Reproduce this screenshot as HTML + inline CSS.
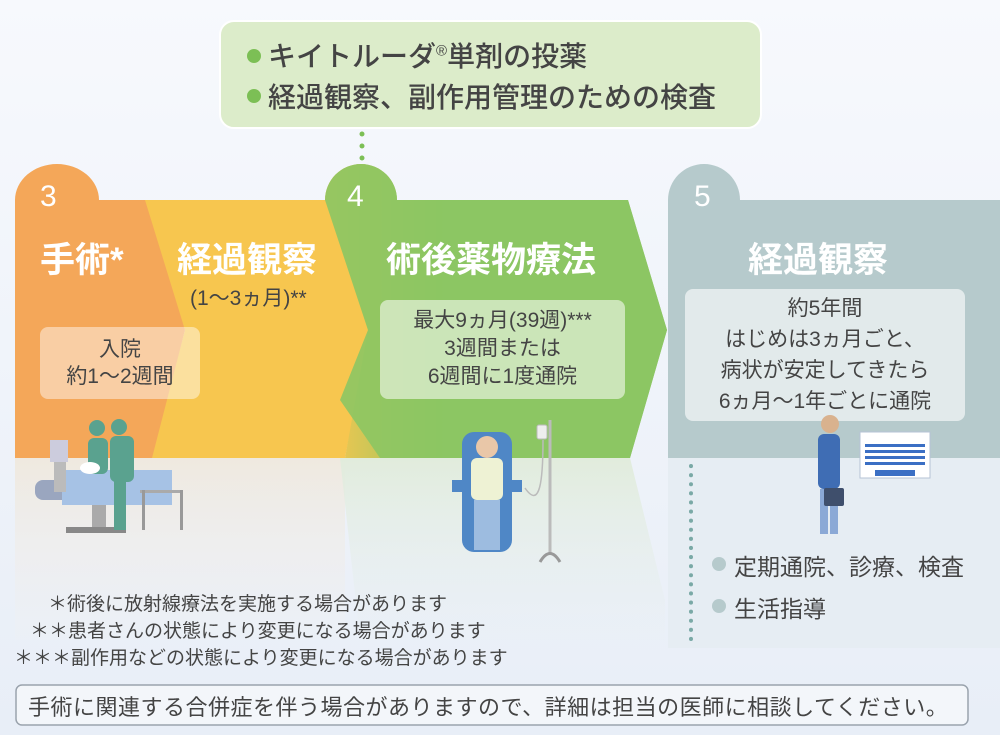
<!DOCTYPE html>
<html><head><meta charset="utf-8"><style>
body{margin:0;width:1000px;height:735px;overflow:hidden;background:#edf2f9;font-family:"Liberation Sans","Noto Sans CJK JP",sans-serif;position:relative}
.t{position:absolute;white-space:nowrap}
.w{color:#fff;font-weight:bold}
.d{color:#444}
</style></head><body>
<svg width="1000" height="735" style="position:absolute;left:0;top:0">
<defs>
<linearGradient id="bg" x1="0" y1="0" x2="0" y2="1"><stop offset="0" stop-color="#f7f9fd"/><stop offset="1" stop-color="#e8eef7"/></linearGradient>
<linearGradient id="gy" x1="0" y1="0" x2="1" y2="0"><stop offset="0" stop-color="#f7c64f"/><stop offset="0.35" stop-color="#8cc563"/></linearGradient>
<linearGradient id="fadeL" x1="0" y1="0" x2="0" y2="1"><stop offset="0" stop-color="#efe9df"/><stop offset="1" stop-color="#eef0f4" stop-opacity="0.3"/></linearGradient>
<linearGradient id="fadeG" x1="0" y1="0" x2="0" y2="1"><stop offset="0" stop-color="#e1ecdc"/><stop offset="1" stop-color="#e9eff5" stop-opacity="0.3"/></linearGradient>
</defs>
<rect width="1000" height="735" fill="url(#bg)"/>
<rect x="15" y="458" width="330" height="182" fill="url(#fadeL)"/>
<polygon points="340,458 630,458 665,600 665,640 360,640" fill="url(#fadeG)"/>
<rect x="668" y="458" width="332" height="190" fill="#e6edf3"/>
<path d="M668,200 A36,36 0 0 1 740,200 L1000,200 L1000,458 L668,458 Z" fill="#b6cacc"/>
<polygon points="140,200 340,200 370,330 345,458 150,458 185,330" fill="#f7c64f"/>
<path d="M325,200 A36,36 0 0 1 397,200 L628,200 L667,330 L630,458 L345,458 L368,330 Z" fill="url(#gy)"/>
<path d="M325,200 A36,36 0 0 1 397,200 L628,200 L667,330 L630,458 L380,458 L340,400 L368,330 Z" fill="#8cc563" opacity="0.9"/>
<path d="M15,200 A42,36 0 0 1 99,200 L145,200 L185,330 L152,458 L15,458 Z" fill="#f4a759"/>
<rect x="220" y="21" width="541" height="107" rx="14" fill="#dcecca" stroke="#fff" stroke-width="2"/>
<g fill="#7cbf55"><circle cx="362" cy="134" r="2.5"/><circle cx="362" cy="146" r="2.5"/><circle cx="362" cy="158" r="2.5"/></g>
<circle cx="254" cy="56" r="7" fill="#7cbf55"/><circle cx="254" cy="96" r="7" fill="#7cbf55"/>
<rect x="40" y="327" width="160" height="72" rx="8" fill="#fff" opacity="0.45"/>
<rect x="380" y="300" width="245" height="99" rx="8" fill="#fff" opacity="0.55"/>
<rect x="685" y="289" width="280" height="132" rx="8" fill="#fff" opacity="0.6"/>
<line x1="691" y1="466" x2="691" y2="642" stroke="#7aa9a6" stroke-width="4" stroke-linecap="round" stroke-dasharray="0.1 9"/>
<circle cx="719" cy="564" r="7" fill="#b6cacc"/><circle cx="719" cy="606" r="7" fill="#b6cacc"/>
<rect x="35" y="480" width="100" height="20" rx="8" fill="#9aa6bf"/>
<rect x="62" y="470" width="110" height="35" fill="#a6c2e5"/>
<rect x="92" y="505" width="14" height="22" fill="#aaa"/>
<rect x="66" y="527" width="60" height="6" fill="#888"/>
<rect x="140" y="490" width="40" height="3" fill="#aaa"/><rect x="142" y="490" width="3" height="40" fill="#999"/><rect x="180" y="490" width="3" height="40" fill="#999"/>
<rect x="50" y="440" width="18" height="22" fill="#ccd"/><rect x="54" y="462" width="12" height="30" fill="#bbb"/>
<circle cx="97" cy="428" r="8" fill="#5aa28f"/><circle cx="119" cy="427" r="8" fill="#5aa28f"/>
<rect x="88" y="438" width="20" height="36" rx="6" fill="#5aa28f"/>
<rect x="110" y="436" width="24" height="46" rx="6" fill="#5aa28f"/>
<rect x="114" y="480" width="12" height="50" fill="#5aa28f"/>
<ellipse cx="90" cy="468" rx="10" ry="6" fill="#fff"/>
<rect x="462" y="432" width="50" height="120" rx="12" fill="#4f87c6"/>
<rect x="452" y="480" width="18" height="12" fill="#4f87c6"/><rect x="504" y="480" width="18" height="12" fill="#4f87c6"/>
<circle cx="487" cy="447" r="11" fill="#e9c7a8"/>
<rect x="471" y="458" width="32" height="42" rx="6" fill="#eef2d4"/>
<rect x="474" y="500" width="26" height="50" fill="#9dbce0"/>
<line x1="550" y1="420" x2="550" y2="555" stroke="#bbb" stroke-width="3"/>
<rect x="537" y="425" width="10" height="14" rx="2" fill="#eee" stroke="#bbb"/>
<path d="M543,440 C543,480 540,510 525,488" fill="none" stroke="#bbb" stroke-width="1.5"/>
<path d="M540,562 Q550,545 560,562" fill="none" stroke="#999" stroke-width="3"/>
<circle cx="830" cy="424" r="9" fill="#d9b28e"/>
<rect x="818" y="434" width="22" height="55" rx="6" fill="#3f6db4"/>
<rect x="820" y="489" width="8" height="45" fill="#8ba9d6"/><rect x="830" y="489" width="8" height="45" fill="#8ba9d6"/>
<rect x="824" y="488" width="20" height="18" rx="2" fill="#3f4f6c"/>
<rect x="860" y="432" width="70" height="46" fill="#fff" stroke="#b6c3d6"/>
<g fill="#3b6fc4"><rect x="865" y="444" width="60" height="3"/><rect x="865" y="450" width="60" height="3"/><rect x="865" y="456" width="60" height="3"/><rect x="865" y="462" width="60" height="3"/><rect x="875" y="470" width="40" height="6"/></g>
<rect x="16" y="685" width="952" height="40" rx="6" fill="#f3f6fa" stroke="#9aa3ad" stroke-width="1.5"/>
</svg>

<div class="t d" style="left:268px;top:35px;font-size:28px;font-weight:500">キイトルーダ<sup style="font-size:15px">®</sup>単剤の投薬</div>
<div class="t d" style="left:268px;top:76px;font-size:28px;font-weight:500">経過観察、副作用管理のための検査</div>

<div class="t w" style="left:40px;top:180px;font-size:30px;font-weight:normal">3</div>
<div class="t w" style="left:347px;top:180px;font-size:30px;font-weight:normal">4</div>
<div class="t w" style="left:694px;top:180px;font-size:30px;font-weight:normal">5</div>

<div class="t w" style="left:40px;top:232px;font-size:35px">手術*</div>
<div class="t w" style="left:177px;top:232px;font-size:35px">経過観察</div>
<div class="t d" style="left:190px;top:282px;font-size:21px">(1〜3ヵ月)**</div>
<div class="t w" style="left:386px;top:232px;font-size:35px">術後薬物療法</div>
<div class="t w" style="left:748px;top:232px;font-size:35px">経過観察</div>

<div class="t d" style="left:40px;width:160px;top:336px;font-size:21px;text-align:center;line-height:27px">入院<br>約1〜2週間</div>
<div class="t d" style="left:380px;width:245px;top:307px;font-size:21px;text-align:center;line-height:28px">最大9ヵ月(39週)***<br>3週間または<br>6週間に1度通院</div>
<div class="t d" style="left:685px;width:280px;top:293px;font-size:21px;text-align:center;line-height:31px">約5年間<br>はじめは3ヵ月ごと、<br>病状が安定してきたら<br>6ヵ月〜1年ごとに通院</div>

<div class="t d" style="left:734px;top:548px;font-size:23px">定期通院、診療、検査</div>
<div class="t d" style="left:734px;top:590px;font-size:23px">生活指導</div>

<div class="t d" style="left:48px;top:589px;font-size:19px">＊術後に放射線療法を実施する場合があります</div>
<div class="t d" style="left:30px;top:616px;font-size:19px">＊＊患者さんの状態により変更になる場合があります</div>
<div class="t d" style="left:14px;top:643px;font-size:19px">＊＊＊副作用などの状態により変更になる場合があります</div>

<div class="t d" style="left:28px;top:690px;font-size:22px;letter-spacing:0.5px">手術に関連する合併症を伴う場合がありますので、詳細は担当の医師に相談してください。</div>
</body></html>
